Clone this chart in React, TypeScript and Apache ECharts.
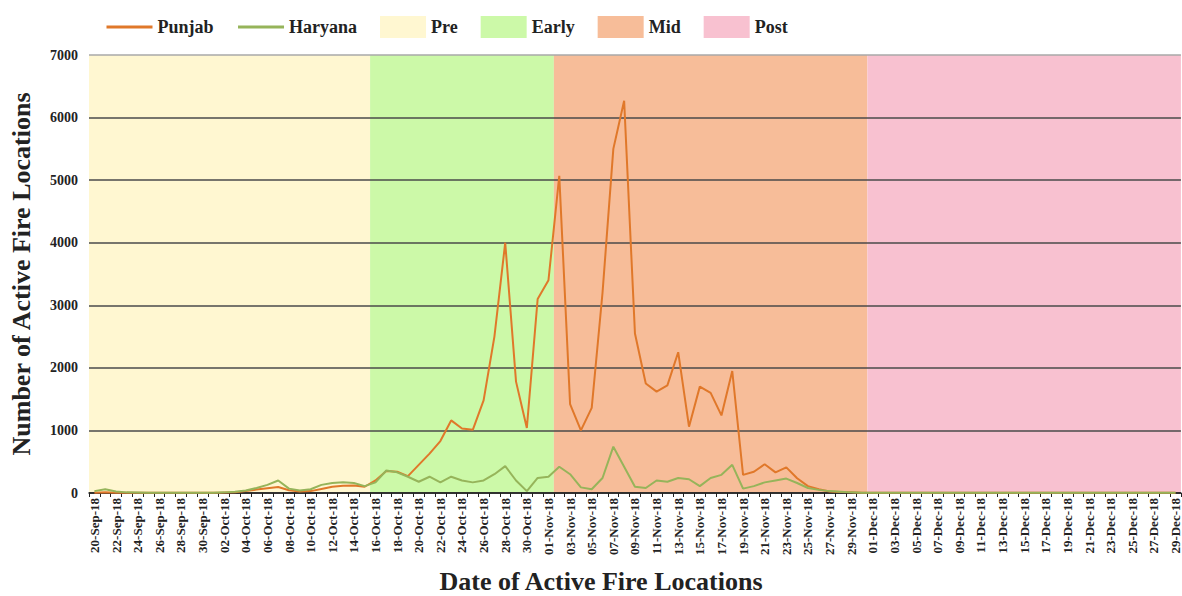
import React, { useEffect, useRef } from 'react';
import * as echarts from 'echarts';

const dates = [
  '20-Sep-18','21-Sep-18','22-Sep-18','23-Sep-18','24-Sep-18','25-Sep-18','26-Sep-18','27-Sep-18','28-Sep-18','29-Sep-18','30-Sep-18',
  '01-Oct-18','02-Oct-18','03-Oct-18','04-Oct-18','05-Oct-18','06-Oct-18','07-Oct-18','08-Oct-18','09-Oct-18','10-Oct-18',
  '11-Oct-18','12-Oct-18','13-Oct-18','14-Oct-18','15-Oct-18','16-Oct-18','17-Oct-18','18-Oct-18','19-Oct-18','20-Oct-18',
  '21-Oct-18','22-Oct-18','23-Oct-18','24-Oct-18','25-Oct-18','26-Oct-18','27-Oct-18','28-Oct-18','29-Oct-18','30-Oct-18','31-Oct-18',
  '01-Nov-18','02-Nov-18','03-Nov-18','04-Nov-18','05-Nov-18','06-Nov-18','07-Nov-18','08-Nov-18','09-Nov-18','10-Nov-18',
  '11-Nov-18','12-Nov-18','13-Nov-18','14-Nov-18','15-Nov-18','16-Nov-18','17-Nov-18','18-Nov-18','19-Nov-18','20-Nov-18',
  '21-Nov-18','22-Nov-18','23-Nov-18','24-Nov-18','25-Nov-18','26-Nov-18','27-Nov-18','28-Nov-18','29-Nov-18','30-Nov-18',
  '01-Dec-18','02-Dec-18','03-Dec-18','04-Dec-18','05-Dec-18','06-Dec-18','07-Dec-18','08-Dec-18','09-Dec-18','10-Dec-18',
  '11-Dec-18','12-Dec-18','13-Dec-18','14-Dec-18','15-Dec-18','16-Dec-18','17-Dec-18','18-Dec-18','19-Dec-18','20-Dec-18',
  '21-Dec-18','22-Dec-18','23-Dec-18','24-Dec-18','25-Dec-18','26-Dec-18','27-Dec-18','28-Dec-18','29-Dec-18',
];

const punjab = [
  5, 10, 5, 2, 2, 2, 2, 2, 2, 2, 3,
  5, 8, 12, 30, 55, 75, 95, 45, 25, 30,
  65, 100, 115, 120, 100, 200, 350, 340, 270, 450,
  630, 830, 1160, 1030, 1010, 1480, 2500, 4000, 1780, 1040, 3100,
  3400, 5070, 1420, 1000, 1360, 3200, 5500, 6270, 2550, 1750,
  1620, 1720, 2250, 1060, 1700, 1600, 1240, 1950, 290, 340,
  460, 330, 410, 235, 110, 60, 25, 15, 10, 5,
  5, 3, 3, 2, 2, 2, 2, 2, 2, 2,
  2, 2, 2, 2, 2, 2, 2, 2, 2, 2,
  2, 2, 2, 2, 2, 2, 2, 2, 2,
];

const haryana = [
  30, 60, 25, 10, 8, 5, 5, 5, 5, 5, 5,
  5, 10, 20, 40, 80, 130, 200, 70, 40, 60,
  130, 160, 170, 160, 110, 170, 360, 330, 260, 180,
  260, 170, 260, 200, 170, 200, 300, 430, 200, 30, 240,
  260, 420, 300, 90, 60, 240, 740, 420, 100, 80,
  200, 180, 240, 220, 110, 240, 290, 450, 70, 110,
  170, 200, 230, 160, 80, 50, 30, 20, 10, 5,
  5, 5, 5, 5, 5, 5, 5, 5, 5, 5,
  5, 5, 5, 5, 5, 5, 5, 5, 5, 5,
  5, 5, 5, 5, 5, 5, 5, 5, 5,
];

const phaseNames = ['Pre', 'Early', 'Mid', 'Post'];
const phaseStart = ['20-Sep-18', '16-Oct-18', '02-Nov-18', '01-Dec-18'];
const phaseEnd = ['15-Oct-18', '01-Nov-18', '30-Nov-18', '29-Dec-18'];
const phaseColors = ['#FFF7D1', '#CCF9A8', '#F7BD99', '#F8C1D0'];

const yMin = 0;
const yMax = 7000;
const yStep = 1000;

const FONT = 'Liberation Serif';

export default function App() {
  const ref = useRef<HTMLDivElement>(null);

  useEffect(() => {
    document.body.style.margin = '0';
    const chart = echarts.init(ref.current as HTMLDivElement, null, { renderer: 'svg' });

    const phaseSeries = phaseNames.map((name, i) => {
      const s = dates.indexOf(phaseStart[i]);
      const e = dates.indexOf(phaseEnd[i]);
      return {
        name,
        type: 'bar',
        xAxisIndex: 1,
        z: 1,
        silent: true,
        color: phaseColors[i],
        itemStyle: { color: phaseColors[i] },
        data: [],
        markArea: {
          silent: true,
          z: 1,
          itemStyle: { color: phaseColors[i] },
          data: [[{ xAxis: s - 0.5 }, { xAxis: e + 0.5 }]],
        },
      };
    });

    const splitColors = ['#333', '#4a4a4a', '#4a4a4a', '#4a4a4a', '#4a4a4a', '#4a4a4a', '#4a4a4a', '#a9a9a9'];

    chart.setOption({
      animation: false,
      backgroundColor: '#ffffff',
      legend: {
        left: 100,
        top: 11,
        itemWidth: 46,
        itemHeight: 22,
        itemGap: 23,
        lineStyle: { width: 3 },
        textStyle: { fontFamily: FONT, fontWeight: 'bold', fontSize: 18, color: '#222' },
        data: [
          { name: 'Punjab', itemStyle: { opacity: 0 } },
          { name: 'Haryana', itemStyle: { opacity: 0 } },
          ...phaseNames.map((n) => ({ name: n, icon: 'rect' })),
        ],
      },
      grid: { left: 89, right: 1, top: 55, bottom: 103 },
      xAxis: [
        {
          type: 'category',
          data: dates,
          boundaryGap: true,
          z: 3,
          axisLine: { show: true, lineStyle: { color: '#222', width: 1.5 } },
          axisTick: { show: true, interval: 0, length: 4, lineStyle: { color: '#222' } },
          axisLabel: {
            interval: 1,
            rotate: 90,
            margin: 5,
            fontFamily: FONT,
            fontWeight: 'bold',
            fontSize: 13,
            color: '#222',
          },
        },
        {
          type: 'value',
          min: -0.5,
          max: dates.length - 0.5,
          show: false,
          splitLine: { show: false },
        },
      ],
      yAxis: {
        type: 'value',
        min: yMin,
        max: yMax,
        interval: yStep,
        z: 3,
        name: 'Number of Active Fire Locations',
        nameLocation: 'middle',
        nameGap: 55,
        nameTextStyle: { fontFamily: FONT, fontWeight: 'bold', fontSize: 26, color: '#222' },
        axisLine: { show: false },
        axisTick: { show: false },
        axisLabel: {
          margin: 11,
          fontFamily: FONT,
          fontWeight: 'bold',
          fontSize: 14,
          color: '#222',
          formatter: (v: number) => String(v),
        },
        splitLine: { show: true, lineStyle: { color: splitColors, width: 1.5 } },
      },
      graphic: [
        {
          type: 'text',
          x: 601,
          y: 581,
          style: {
            text: 'Date of Active Fire Locations',
            font: `bold 26px "${FONT}"`,
            fill: '#222',
            align: 'center',
            verticalAlign: 'middle',
          },
        },
      ],
      series: [
        ...phaseSeries,
        {
          name: 'Punjab',
          type: 'line',
          z: 5,
          data: punjab,
          symbol: 'none',
          showSymbol: false,
          color: '#E0782A',
          lineStyle: { width: 2, color: '#E0782A' },
        },
        {
          name: 'Haryana',
          type: 'line',
          z: 6,
          data: haryana,
          symbol: 'none',
          showSymbol: false,
          color: '#96B45A',
          lineStyle: { width: 2, color: '#96B45A' },
        },
      ],
    });

    return () => {
      chart.dispose();
    };
  }, []);

  return <div ref={ref} style={{ position: 'fixed', left: 0, top: 0, width: 1182, height: 596 }} />;
}
